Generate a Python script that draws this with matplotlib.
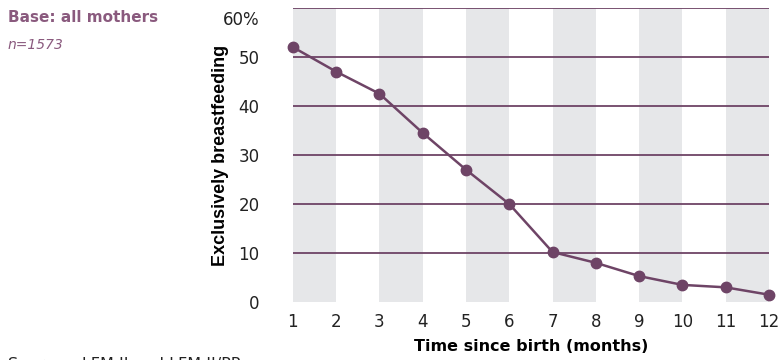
import matplotlib.pyplot as plt
import matplotlib.transforms as mtransforms

# months since birth and share exclusively breastfeeding (%)
months = [1, 2, 3, 4, 5, 6, 7, 8, 9, 10, 11, 12]
exclusive_pct = [52, 47, 42.5, 34.5, 27, 20, 10.2, 8, 5.3, 3.5, 3, 1.5]
y_ticks = [0, 10, 20, 30, 40, 50, 60]
y_labels = ['0', '10', '20', '30', '40', '50', '60%']

purple = '#6e4466'
band = '#e6e7e9'
title_col = '#8a5a7e'

fig = plt.figure(figsize=(7.79, 3.6), dpi=100)
ax = fig.add_axes([0.376, 0.161, 0.611, 0.817])

# alternating grey columns: 1-2, 3-4, ...
for m in months[::2]:
    ax.axvspan(m, m + 1, ymin=0, ymax=1, color=band, lw=0, zorder=0)

for y in y_ticks[1:]:
    ax.axhline(y, color=purple, lw=1.3, zorder=1)

ax.plot(months, exclusive_pct, color=purple, lw=1.8, marker='o', ms=7.5,
        zorder=3, clip_on=False)

ax.set_xlim(1, 12)
ax.set_ylim(0, 60)
ax.set_xticks(months)
ax.set_xticklabels([str(m) for m in months], fontsize=12, color='#222222')
ax.set_yticks(y_ticks)
ax.set_yticklabels(y_labels, fontsize=12, color='#222222')
ax.tick_params(axis='both', length=0)
ax.tick_params(axis='y', pad=24)
ax.tick_params(axis='x', pad=8)
for s in ax.spines.values():
    s.set_visible(False)

# top label sits a little below its line
top = ax.get_yticklabels()[-1]
top.set_transform(top.get_transform() +
                  mtransforms.ScaledTranslation(0, -10 / 100, fig.dpi_scale_trans))

ax.set_ylabel('Exclusively breastfeeding', fontsize=13, fontweight='bold',
              family='Liberation Sans', labelpad=-4)
ax.set_xlabel('Time since birth (months)', fontsize=11.5, fontweight='bold',
              family='DejaVu Sans', labelpad=6)

fig.text(0.01, 0.94, 'Base: all mothers', fontsize=11, fontweight='bold',
         color=title_col)
fig.text(0.01, 0.865, 'n=1573', fontsize=10, style='italic', color=title_col)
fig.text(0.01, 0.008, 'Sources: LFM II and LFM II/PP', fontsize=11.5,
         color='#222222', va='top')

fig.savefig('out.png', dpi=100)
